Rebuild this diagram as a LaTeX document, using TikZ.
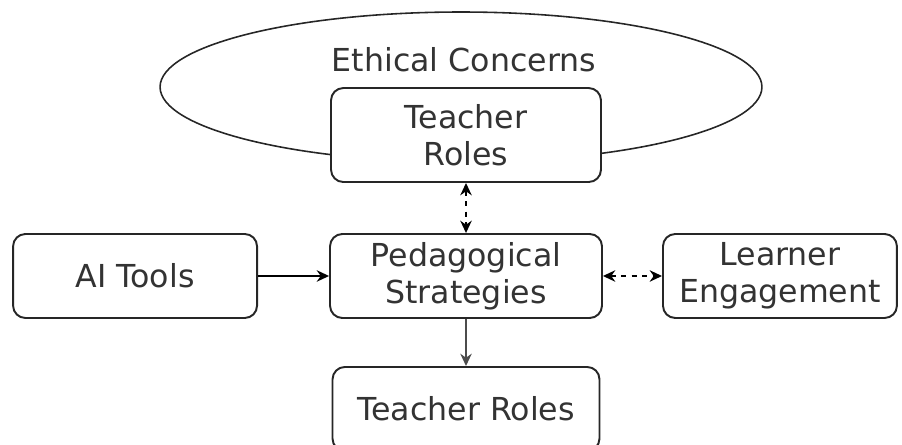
\documentclass[tikz,border=0pt]{standalone}
\usepackage{fontspec}
\setmainfont{DejaVu Sans}
\usetikzlibrary{shapes.geometric, arrows.meta}
\tikzstyle{block} = [rectangle, rounded corners=7pt,
minimum height=1.68cm,
text centered,
align=center,
draw=black!85,
line width=1.1pt,
fill=white,
text=black!80,
font=\fontsize{18}{21}\selectfont]
\tikzstyle{ring} = [ellipse,
minimum width=12.04cm,
minimum height=3cm,
draw=black!85,
line width=0.9pt]
\tikzstyle{arrow} = [line width=1.3pt,->,>={Stealth[length=7pt,width=6.5pt]}]
\tikzstyle{dasharrow} = [line width=1.1pt,<->,>={Stealth[length=7pt,width=6.5pt]},dash pattern=on 3pt off 3pt]

\begin{document}
\begin{tikzpicture}[x=0.02cm, y=-0.02cm, node distance=6.62cm]
\useasboundingbox (0,0) rectangle (902,445);
\clip (0,0) rectangle (902,445);

\node (ethics) [ring] at (461,87) {};
\node (ethicstxt) [text=black!80, font=\fontsize{18}{21}\selectfont] at (464,60) {Ethical Concerns};

\node (ped) [block, minimum width=5.44cm] at (466,276) {Pedagogical\\Strategies};
\node (tools) [block, minimum width=4.88cm, left of=ped] {AI Tools};
\node (learner) [block, minimum width=4.68cm, node distance=6.28cm, right of=ped] {Learner\\Engagement};

\node (roles) [block, minimum width=5.4cm, minimum height=1.88cm, node distance=2.82cm, above of=ped] {Teacher\\Roles};
\node (rolesbelow) [block, minimum width=5.34cm, node distance=2.66cm, below of=ped] {Teacher Roles};

\draw [arrow] (tools) -- (ped);
\draw [dasharrow] (ped) -- (learner);
\draw [dasharrow] (roles) -- (ped);
\draw [arrow, line width=0.9pt, draw=black!70, fill=black!70] (ped) -- (rolesbelow);

\end{tikzpicture}
\end{document}
